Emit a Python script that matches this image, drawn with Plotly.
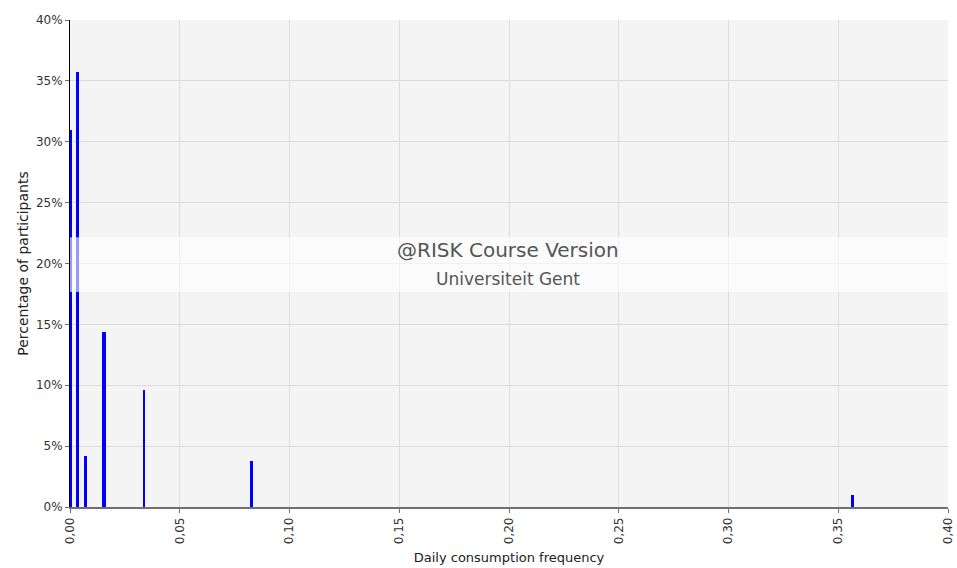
import plotly.graph_objects as go

# Data
freq = [0.0006, 0.0033, 0.0072, 0.0155, 0.0336, 0.0825, 0.3565]
pct = [31.0, 35.7, 4.2, 14.4, 9.6, 3.8, 1.0]
bar_w = [0.0010, 0.0013, 0.0013, 0.0014, 0.0010, 0.0014, 0.0014]

x_ticks = [0.00, 0.05, 0.10, 0.15, 0.20, 0.25, 0.30, 0.35, 0.40]
x_tick_text = ["0,00", "0,05", "0,10", "0,15", "0,20", "0,25", "0,30", "0,35", "0,40"]
y_ticks = [0, 5, 10, 15, 20, 25, 30, 35, 40]
y_tick_text = ["0%", "5%", "10%", "15%", "20%", "25%", "30%", "35%", "40%"]

fig = go.Figure()
fig.add_trace(go.Bar(
    x=freq, y=pct, width=bar_w,
    marker=dict(color="#0000ff", line=dict(width=0)),
    showlegend=False, hoverinfo="x+y",
))

font_family = "DejaVu Sans"

fig.update_layout(
    width=957, height=568,
    margin=dict(l=70, r=9, t=20, b=61, autoexpand=False),
    paper_bgcolor="white",
    plot_bgcolor="#f4f4f4",
    bargap=0,
    separators=",.",
    font=dict(family=font_family, size=12, color="#333333"),
    showlegend=False,
)

fig.update_xaxes(
    range=[0, 0.40],
    tickmode="array", tickvals=x_ticks, ticktext=x_tick_text,
    tickangle=-90,
    automargin=False,
    showgrid=True, gridcolor="#dcdcdc", gridwidth=1,
    zeroline=False,
    showline=True, linecolor="#707070", linewidth=1.5,
    ticks="outside", ticklen=4, tickcolor="#707070",
    tickfont=dict(family=font_family, size=12, color="#333333"),
    title=dict(text="Daily consumption frequency",
               font=dict(family=font_family, size=13, color="#222222"),
               standoff=10),
)
fig.update_yaxes(
    range=[0, 40],
    tickmode="array", tickvals=y_ticks, ticktext=y_tick_text,
    automargin=False,
    showgrid=True, gridcolor="#dcdcdc", gridwidth=1,
    zeroline=False,
    showline=True, linecolor="#000000", linewidth=1,
    ticks="outside", ticklen=4, tickcolor="#707070",
    tickfont=dict(family=font_family, size=12, color="#333333"),
    title=dict(text="Percentage of participants",
               font=dict(family=font_family, size=14, color="#222222"),
               standoff=4),
)

# Watermark band
fig.add_shape(type="rect", xref="x domain", yref="y domain",
              x0=0, x1=1, y0=0.4415, y1=0.554,
              fillcolor="white", opacity=0.6, line=dict(width=0), layer="above")

fig.add_annotation(text="@RISK Course Version", xref="x domain", yref="y domain",
                   x=0.499, y=(507 - 250) / 487, showarrow=False,
                   font=dict(family=font_family, size=20, color="#555555"))
fig.add_annotation(text="Universiteit Gent", xref="x domain", yref="y domain",
                   x=0.499, y=(507 - 279) / 487, showarrow=False,
                   font=dict(family=font_family, size=17, color="#555555"))

fig.write_html(
    "out.html",
    config={"displayModeBar": False},
    post_script="document.body.style.margin='0';document.body.style.overflow='hidden';",
)
